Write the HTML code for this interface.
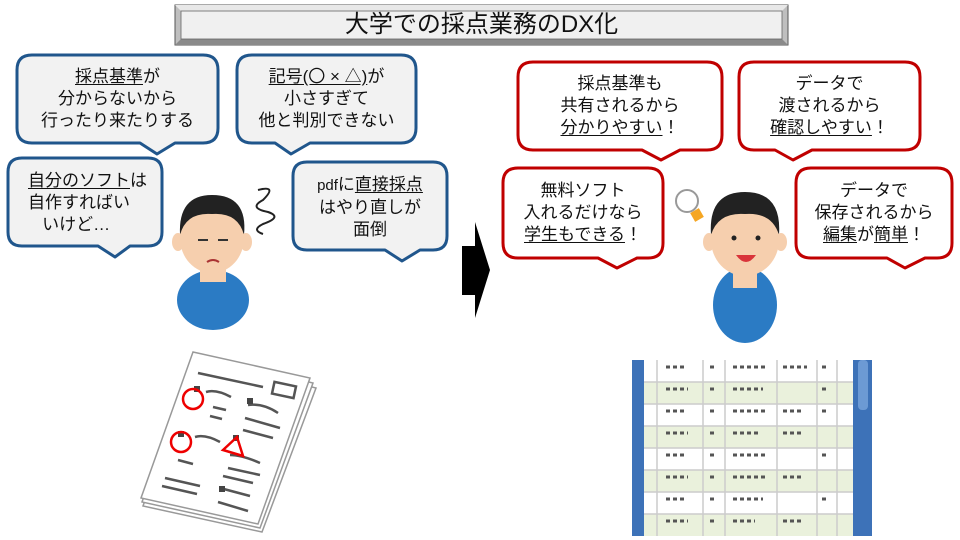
<!DOCTYPE html>
<html><head><meta charset="utf-8"><style>
body{margin:0;width:960px;height:540px;background:#fff;position:relative;overflow:hidden;font-family:"Liberation Sans","Noto Sans CJK JP",sans-serif;}
.t{position:absolute;text-align:center;font-size:17px;line-height:22px;color:#111;}
u{text-decoration:underline;text-underline-offset:2px}
</style></head><body>
<svg width="960" height="540" style="position:absolute;left:0;top:0">
<!-- title -->
<rect x="175" y="5" width="613" height="40" fill="#bfbfbf" stroke="#555"/>
<polygon points="175,5 788,5 782,11 181,11" fill="#e8e8e8"/>
<polygon points="175,45 788,45 782,39 181,39" fill="#8a8a8a"/>
<rect x="181" y="11" width="601" height="28" fill="#f0f0f0" stroke="#666" stroke-width="0.8"/>
<!-- blue bubbles -->
<g fill="#f2f2f2" stroke="#20568c" stroke-width="3" stroke-linejoin="round">
<path d="M32,55 H203 Q218,55 218,70 V128 Q218,143 203,143 H175 L157,154 L140,143 H32 Q17,143 17,128 V70 Q17,55 32,55Z"/>
<path d="M252,55 H401 Q416,55 416,70 V128 Q416,143 401,143 H310 L291,154 L275,143 H252 Q237,143 237,128 V70 Q237,55 252,55Z"/>
<path d="M22,158 H148 Q162,158 162,172 V232 Q162,246 148,246 H130 L115,257 L98,246 H22 Q8,246 8,232 V172 Q8,158 22,158Z"/>
<path d="M307,162 H433 Q447,162 447,176 V236 Q447,250 433,250 H420 L402,261 L385,250 H307 Q293,250 293,236 V176 Q293,162 307,162Z"/>
</g>
<!-- red bubbles -->
<g fill="#fff" stroke="#c00000" stroke-width="3" stroke-linejoin="round">
<path d="M533,62 H707 Q722,62 722,77 V135 Q722,150 707,150 H680 L661,160 L642,150 H533 Q518,150 518,135 V77 Q518,62 533,62Z"/>
<path d="M754,62 H905 Q920,62 920,77 V135 Q920,150 905,150 H812 L793,160 L775,150 H754 Q739,150 739,135 V77 Q739,62 754,62Z"/>
<path d="M518,168 H648 Q663,168 663,183 V243 Q663,258 648,258 H637 L617,268 L598,258 H518 Q503,258 503,243 V183 Q503,168 518,168Z"/>
<path d="M811,168 H937 Q952,168 952,183 V243 Q952,258 937,258 H925 L905,268 L887,258 H811 Q796,258 796,243 V183 Q796,168 811,168Z"/>
</g>
<!-- arrow -->
<polygon points="462,246 475,246 475,222 490,270 475,318 475,295 462,295" fill="#000"/>
<!-- left person -->
<ellipse cx="213" cy="300" rx="36" ry="30" fill="#2b7bc4"/>
<rect x="200" y="262" width="26" height="20" fill="#f6cfae"/>
<ellipse cx="212" cy="238" rx="32" ry="35" fill="#f6cfae"/>
<path d="M180,235 Q178,195 212,195 Q248,195 244,235 Q238,212 212,214 Q186,212 180,235Z" fill="#222"/>
<ellipse cx="178" cy="242" rx="6" ry="9" fill="#f6cfae"/>
<ellipse cx="246" cy="242" rx="6" ry="9" fill="#f6cfae"/>
<path d="M198,240 h10 M218,240 h10" stroke="#333" stroke-width="2"/>
<path d="M207,262 q6,-4 12,0" stroke="#a33" stroke-width="2" fill="none"/>
<path d="M258,190 q20,-5 5,10 q-15,8 5,12 q15,5 -5,12 q-12,6 0,10" stroke="#222" stroke-width="2" fill="none"/>
<!-- right person -->
<ellipse cx="745" cy="305" rx="32" ry="38" fill="#2b7bc4"/>
<rect x="733" y="270" width="24" height="18" fill="#f6cfae"/>
<ellipse cx="745" cy="240" rx="34" ry="36" fill="#f6cfae"/>
<path d="M711,235 Q708,192 745,192 Q782,192 779,235 Q772,212 745,214 Q718,212 711,235Z" fill="#222"/>
<ellipse cx="709" cy="242" rx="6" ry="9" fill="#f6cfae"/>
<ellipse cx="781" cy="242" rx="6" ry="9" fill="#f6cfae"/>
<circle cx="734" cy="238" r="2.5" fill="#222"/><circle cx="758" cy="238" r="2.5" fill="#222"/>
<path d="M736,255 q10,14 20,0Z" fill="#d9343a"/>
<circle cx="687" cy="201" r="11" fill="#fff" stroke="#999" stroke-width="2"/>
<rect x="692" y="210" width="10" height="10" fill="#f5a623" transform="rotate(-30 697 215)"/>
<!-- papers -->
<polygon points="197,358 316,388 262,532 143,506" fill="#fff" stroke="#999" stroke-width="1.5"/>
<polygon points="195,355 313,383 260,528 142,502" fill="#fff" stroke="#999" stroke-width="1.5"/>
<polygon points="193,352 310,378 258,524 141,498" fill="#fff" stroke="#999" stroke-width="1.5"/>
<g stroke="#555" stroke-width="2.5" fill="none">
<path d="M198,373 l65,14"/>
<rect x="273" y="384" width="22" height="12" transform="rotate(12 284 390)" fill="none"/>
<path d="M206,392 q10,-3 25,5 M213,407 l13,3 M210,416 l12,3 M248,405 q15,-2 30,8 M245,418 l35,10 M243,430 l30,8"/>
<path d="M195,437 q10,-3 25,5 M178,460 l15,4 M165,478 l35,8 M162,486 l35,8 M230,455 q12,0 30,8 M228,468 l32,7 M223,476 l30,7 M220,488 l30,8 M218,502 l30,9 M235,492 l0,0"/>
</g>
<g fill="#444"><rect x="194" y="386" width="6" height="6"/><rect x="247" y="398" width="6" height="6"/><rect x="178" y="431" width="6" height="6"/><rect x="233" y="435" width="6" height="6"/><rect x="219" y="486" width="6" height="6"/></g>
<circle cx="193" cy="399" r="10" fill="none" stroke="#e00" stroke-width="2.5"/>
<circle cx="181" cy="442" r="10" fill="none" stroke="#e00" stroke-width="2.5"/>
<polygon points="237,437 243,456 223,450" fill="none" stroke="#e00" stroke-width="2.5"/>
<!-- table -->
<rect x="632" y="360" width="240" height="176" fill="#fff"/>
<g fill="#eaf1dc"><rect x="644" y="382" width="209" height="22"/><rect x="644" y="426" width="209" height="22"/><rect x="644" y="470" width="209" height="22"/><rect x="644" y="514" width="209" height="22"/></g>
<g stroke="#ccc" stroke-width="1.5">
<path d="M644,382 H853 M644,404 H853 M644,426 H853 M644,448 H853 M644,470 H853 M644,492 H853 M644,514 H853"/>
<path d="M657,360 V536 M703,360 V536 M725,360 V536 M777,360 V536 M817,360 V536 M837,360 V536"/>
</g>
<rect x="632" y="360" width="12" height="176" fill="#3d72b8"/>
<rect x="853" y="360" width="19" height="176" fill="#3d72b8"/>
<rect x="858" y="360" width="10" height="50" rx="4" fill="#6c9ad4"/>
<g stroke="#555" stroke-width="3" stroke-dasharray="4 3">
<path d="M666,367 h20 M710,367 h6 M733,367 h35 M783,367 h24 M822,367 h6"/>
<path d="M666,389 h22 M710,389 h6 M733,389 h30 M822,389 h6"/>
<path d="M666,411 h18 M710,411 h6 M733,411 h35 M783,411 h18 M822,411 h6"/>
<path d="M666,433 h22 M710,433 h6 M733,433 h25 M783,433 h18"/>
<path d="M666,455 h20 M710,455 h6 M733,455 h35 M822,455 h6"/>
<path d="M666,477 h22 M710,477 h6 M733,477 h35 M783,477 h18"/>
<path d="M666,499 h18 M710,499 h6 M733,499 h30 M822,499 h6"/>
<path d="M666,521 h22 M710,521 h6 M733,521 h22 M783,521 h18"/>
</g>
</svg>
<div class="t" style="left:175px;top:10px;width:613px;font-size:24px;line-height:30px">大学での採点業務のDX化</div>
<div class="t" style="left:17px;top:66px;width:201px"><u>採点基準</u>が<br>分からないから<br>行ったり来たりする</div>
<div class="t" style="left:237px;top:66px;width:179px"><u>記号(〇 × △)</u>が<br>小さすぎて<br>他と判別できない</div>
<div class="t" style="left:8px;top:170px;width:154px;text-align:left;padding-left:20px;box-sizing:border-box"><u>自分のソフト</u>は<br>自作すればい<br>&nbsp;&nbsp;&nbsp;いけど…</div>
<div class="t" style="left:293px;top:174px;width:154px"><span style="font-size:15px">pdf</span>に<u>直接採点</u><br>はやり直しが<br>面倒</div>
<div class="t" style="left:518px;top:73px;width:204px">採点基準も<br>共有されるから<br><u>分かりやすい</u>！</div>
<div class="t" style="left:739px;top:73px;width:181px">データで<br>渡されるから<br><u>確認しやすい</u>！</div>
<div class="t" style="left:503px;top:180px;width:160px">無料ソフト<br>入れるだけなら<br><u>学生もできる</u>！</div>
<div class="t" style="left:796px;top:180px;width:156px">データで<br>保存されるから<br><u>編集</u>が<u>簡単</u>！</div>
</body></html>
